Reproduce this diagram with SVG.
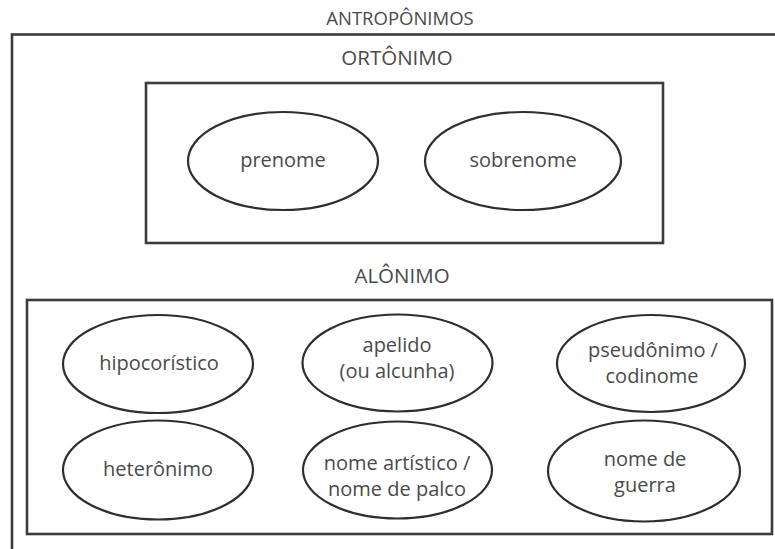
<svg xmlns="http://www.w3.org/2000/svg" width="775" height="549" viewBox="0 0 775 549">
  <style>
    .box { fill: none; stroke: #3c3c3c; stroke-width: 2.6; }
    .node ellipse { fill: #ffffff; stroke: #2e2e2e; stroke-width: 2.2; }
    text { font-family: "Open Sans", "Liberation Sans", sans-serif; fill: #4a4a4a; text-anchor: middle; }
    .lbl { font-size: 20px; }
    .hdr { font-size: 20.5px; }
    .top { font-size: 18.5px; }
  </style>
  <rect width="775" height="549" fill="#ffffff"/>

  <g id="antroponimos">
    <text class="top" x="400" y="25">ANTROPÔNIMOS</text>
    <rect class="box" x="12" y="34.5" width="820" height="600"/>
  </g>

  <g id="ortonimo">
    <text class="hdr" x="397" y="65">ORTÔNIMO</text>
    <rect class="box" x="146" y="83" width="517" height="160"/>
  </g>

  <g id="prenome" class="node">
    <ellipse cx="283" cy="161" rx="95" ry="49"/>
    <text class="lbl" x="283" y="167">prenome</text>
  </g>
  <g id="sobrenome" class="node">
    <ellipse cx="523" cy="161" rx="98" ry="49"/>
    <text class="lbl" x="523" y="167">sobrenome</text>
  </g>

  <g id="alonimo">
    <text class="hdr" x="402" y="283">ALÔNIMO</text>
    <rect class="box" x="27" y="300" width="745" height="234"/>
  </g>

  <g id="hipocoristico" class="node">
    <ellipse cx="158" cy="364" rx="95" ry="49"/>
    <text class="lbl" x="159" y="370">hipocorístico</text>
  </g>
  <g id="apelido" class="node">
    <ellipse cx="397.5" cy="363" rx="95" ry="48.5"/>
    <text class="lbl" x="397" y="352">apelido</text>
    <text class="lbl" x="397" y="378">(ou alcunha)</text>
  </g>
  <g id="pseudonimo" class="node">
    <ellipse cx="651" cy="363.5" rx="94" ry="48.5"/>
    <text class="lbl" x="653" y="357">pseudônimo /</text>
    <text class="lbl" x="652" y="383">codinome</text>
  </g>

  <g id="heteronimo" class="node">
    <ellipse cx="158" cy="470" rx="95" ry="49.5"/>
    <text class="lbl" x="158" y="476">heterônimo</text>
  </g>
  <g id="nome-artistico" class="node">
    <ellipse cx="397.5" cy="470" rx="94.5" ry="48.5"/>
    <text class="lbl" x="397" y="470">nome artístico /</text>
    <text class="lbl" x="397" y="496">nome de palco</text>
  </g>
  <g id="nome-de-guerra" class="node">
    <ellipse cx="644" cy="471" rx="96" ry="50.5"/>
    <text class="lbl" x="645" y="466">nome de</text>
    <text class="lbl" x="645" y="492">guerra</text>
  </g>

  <g id="connectors"></g>
</svg>
